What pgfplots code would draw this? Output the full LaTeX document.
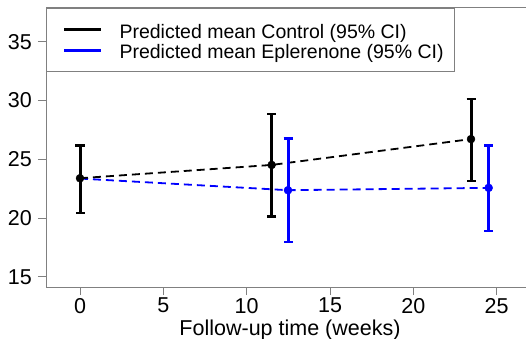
\documentclass[border=0pt]{standalone}
\usepackage{fontspec}
\setmainfont{Liberation Sans}
\usepackage{pgfplots}
\pgfplotsset{compat=1.18}
\usepackage{pgfplotstable}
\definecolor{axgray}{RGB}{128,128,128}
\definecolor{rblue}{RGB}{0,0,255}
\newcommand\lstrut{\rule[-3bp]{0pt}{22bp}}

\pgfplotstableread{
x y ep em
0 23.39 2.77 2.97
11.5 24.52 4.32 4.38
23.46 26.72 3.41 3.58
}\control
\pgfplotstableread{
x y ep em
12.48 22.37 4.41 4.43
24.52 22.57 3.59 3.67
}\eplerenone
\pgfplotstableread{
x y
0 23.36
12.48 22.37
24.52 22.57
}\eplline

\begin{document}
\begin{tikzpicture}
\begin{axis}[
  scale only axis, width=480bp, height=279bp,
  xmin=-2.04, xmax=26.76, ymin=14.13, ymax=37.88,
  axis x line*=bottom, axis y line*=left,
  axis line style={axgray, line width=1bp},
  tick style={axgray, line width=1bp},
  tick align=outside, major tick length=8bp,
  xtick={0,5,...,25}, ytick={15,20,...,35},
  /pgf/number format/assume math mode=true,
  ticklabel style={font=\fontsize{21.5bp}{24bp}\selectfont, black},
  yticklabel style={inner sep=0pt, xshift=-6bp},
  xticklabel style={inner sep=0pt, yshift=-3bp},
  xlabel={Follow-up time (weeks)},
  xlabel style={font=\fontsize{21.5bp}{24bp}\selectfont, inner sep=0pt,
    at={(rel axis cs:0.5,0)}, anchor=base, xshift=4bp, yshift=-48.5bp},
  legend image code/.code={\path (0bp,0bp); \draw[#1] (5bp,0bp) -- (42bp,0bp);},
  legend style={at={(0,1)}, anchor=north west, draw=axgray, line width=1bp, fill=white,
    inner xsep=11bp, inner ysep=11bp, row sep=0pt, column sep=17bp,
    font=\fontsize{19.5bp}{22bp}\selectfont,
    nodes={inner sep=0pt}},
  legend cell align=left,
  clip=false,
]
\draw[axgray, line width=1bp] (rel axis cs:0,1) -- (rel axis cs:1,1);
\addlegendimage{black, line width=3bp}
\addlegendentry{\lstrut Predicted mean Control (95\% CI)}
\addlegendimage{rblue, line width=3bp}
\addlegendentry{\lstrut Predicted mean Eplerenone (95\% CI)}
\addplot[forget plot, rblue, line width=1.8bp, dash pattern=on 8bp off 5bp] table[x=x, y=y] {\eplline};
\addplot[forget plot, black, line width=1.8bp, dash pattern=on 8bp off 5bp] table[x=x, y=y] {\control};
\addplot[forget plot, rblue, only marks, mark=*, mark size=4bp,
  error bars/.cd, y dir=both, y explicit,
  error bar style={line width=3bp},
  error mark options={rotate=90, line width=2.5bp, mark size=4.5bp, rblue}]
  table[x=x, y=y, y error plus=ep, y error minus=em] {\eplerenone};
\addplot[forget plot, black, only marks, mark=*, mark size=4bp,
  error bars/.cd, y dir=both, y explicit,
  error bar style={line width=3bp},
  error mark options={rotate=90, line width=2.5bp, mark size=4.5bp, black}]
  table[x=x, y=y, y error plus=ep, y error minus=em] {\control};
\coordinate (ll) at (rel axis cs:0,0);
\coordinate (ur) at (rel axis cs:1,1);
\end{axis}
\pgfresetboundingbox
\path[use as bounding box] ([shift={(-46bp,-52bp)}]ll) rectangle ([shift={(0bp,8bp)}]ur);
\end{tikzpicture}
\end{document}
